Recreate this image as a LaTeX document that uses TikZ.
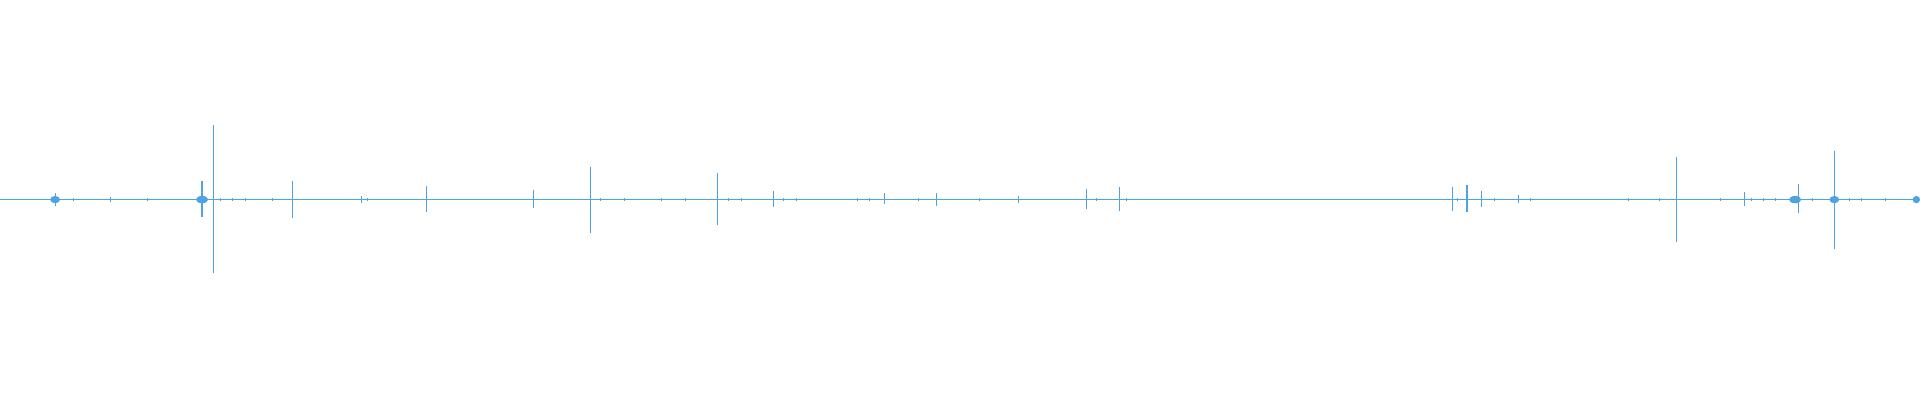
\documentclass[tikz,border=0pt]{standalone}
\usetikzlibrary{positioning}
\definecolor{wave}{HTML}{4FA3E0}
\tikzset{
  wave line/.style={draw=wave,line width=0.5pt},
  wave spike/.style={draw=wave,line width=0.9pt}
}
\begin{document}
\begin{tikzpicture}[x=1bp,y=-1bp]
  \useasboundingbox (0,0) rectangle (1568,326.7);
  % baseline
  \coordinate (start) at (0,163);
  \coordinate (end) at (1568,163);
  \draw[wave line] (start) -- (end);
  % spikes: x / up / down
  \foreach \x/\u/\d in {45/5/5,90/2/2,165/15/14,174/61/60,239/15/15,295/3/3,
      348/11/10,436/8/7,482/27/27,586/22/21,632/7/6,722/5/4,765/5/5,832/3/3,
      887/9/8,914/10/9,1186/10/9,1198/12/10,1210/7/6,1240/4/3,1369/35/35,
      1425/6/5,1469/13/11,1498/40/40,1565/3/3}
  {
    \draw[wave spike] (\x,163-\u) -- (\x,163+\d);
  }
  % small bursts
  \foreach \x/\w in {45/4,165/5,1466/5,1498/4,1565/3}
  {
    \fill[wave] (\x,163) ellipse ({\w} and 3);
  }
  % noise
  \foreach \x in {60,120,180,190,200,222,300,490,510,540,560,595,605,640,650,700,710,
      750,800,895,920,1190,1220,1250,1330,1355,1405,1430,1440,1450,1480,1510,1520,1540}
  {
    \draw[wave line] (\x,161.5) -- (\x,164.5);
  }
\end{tikzpicture}
\end{document}
